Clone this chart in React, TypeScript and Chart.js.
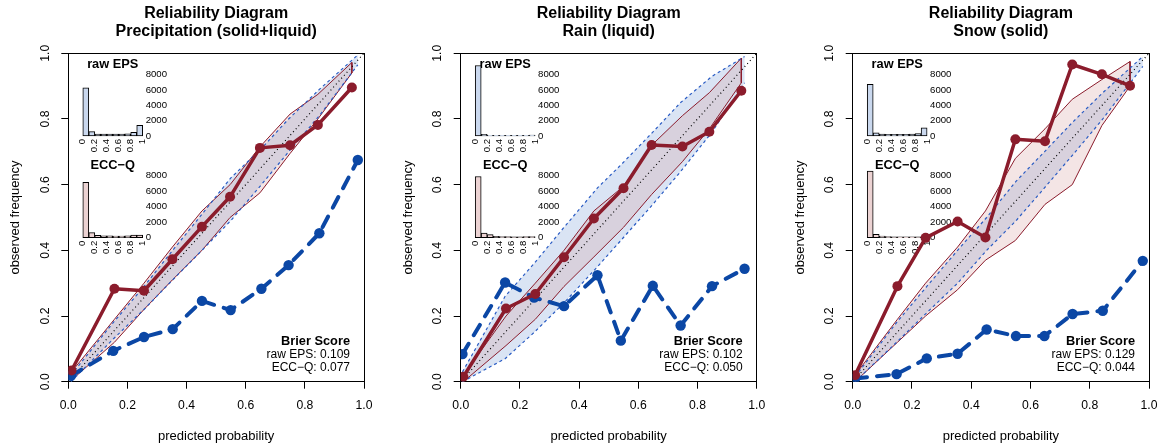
import React, { useEffect, useRef } from "react";
import { Chart, registerables } from "chart.js";

Chart.register(...registerables);

const FONT = "'Liberation Sans', Arial, Helvetica, sans-serif";

// ---------------- data ----------------
const TITLE_LINE1 = "Reliability Diagram";
const SUBTITLES = ["Precipitation (solid+liquid)", "Rain (liquid)", "Snow (solid)"];
const BRIER_RAW = [0.109, 0.102, 0.129];
const BRIER_ECC = [0.077, 0.05, 0.044];
const TICKS_MAIN = [0, 0.2, 0.4, 0.6, 0.8, 1.0];
const HIST_BINS = [0.05, 0.15, 0.25, 0.35, 0.45, 0.55, 0.65, 0.75, 0.85, 0.95];
const DIAG_X = [0, 1];

// Panel 1: Precipitation (solid+liquid)
const P1_RAW_X = [0.009, 0.152, 0.256, 0.353, 0.452, 0.549, 0.653, 0.745, 0.849, 0.979];
const P1_RAW_Y = [0.018, 0.094, 0.136, 0.16, 0.246, 0.218, 0.283, 0.355, 0.452, 0.675];
const P1_ECC_X = [0.011, 0.156, 0.256, 0.352, 0.452, 0.547, 0.648, 0.75, 0.844, 0.959];
const P1_ECC_Y = [0.034, 0.283, 0.277, 0.373, 0.472, 0.563, 0.712, 0.72, 0.782, 0.896];
const P1_RAW_UP = [0.02, 0.18, 0.29, 0.4, 0.51, 0.62, 0.71, 0.8, 0.89, 0.995];
const P1_RAW_LO = [0.0, 0.13, 0.22, 0.31, 0.4, 0.49, 0.6, 0.7, 0.81, 0.965];
const P1_ECC_UP = [0.03, 0.19, 0.3, 0.41, 0.52, 0.6, 0.715, 0.815, 0.875, 0.972];
const P1_ECC_LO = [0.005, 0.12, 0.22, 0.31, 0.4, 0.5, 0.575, 0.695, 0.8, 0.94];
const P1_HIST_RAW = [6300, 570, 260, 250, 250, 250, 260, 280, 480, 1400];
const P1_HIST_ECC = [7150, 650, 320, 250, 230, 220, 220, 230, 330, 350];

// Panel 2: Rain (liquid)
const P2_RAW_X = [0.006, 0.15, 0.248, 0.349, 0.462, 0.541, 0.649, 0.743, 0.849, 0.959];
const P2_RAW_Y = [0.084, 0.302, 0.256, 0.23, 0.324, 0.125, 0.292, 0.171, 0.291, 0.344];
const P2_ECC_X = [0.009, 0.153, 0.252, 0.349, 0.45, 0.55, 0.645, 0.749, 0.84, 0.948];
const P2_ECC_Y = [0.015, 0.223, 0.267, 0.379, 0.497, 0.589, 0.721, 0.716, 0.761, 0.886];
const P2_RAW_UP = [0.03, 0.26, 0.36, 0.47, 0.59, 0.66, 0.76, 0.85, 0.93, 0.99];
const P2_RAW_LO = [0.0, 0.07, 0.15, 0.24, 0.35, 0.43, 0.54, 0.64, 0.76, 0.91];
const P2_ECC_UP = [0.02, 0.2, 0.3, 0.4, 0.52, 0.595, 0.72, 0.81, 0.88, 0.985];
const P2_ECC_LO = [0.0, 0.11, 0.19, 0.29, 0.38, 0.47, 0.57, 0.67, 0.77, 0.91];
const P2_HIST_RAW = [9200, 220, 100, 90, 80, 80, 80, 80, 90, 110];
const P2_HIST_ECC = [7900, 600, 390, 170, 150, 130, 120, 120, 130, 150];

// Panel 3: Snow (solid)
const P3_RAW_X = [0.008, 0.148, 0.25, 0.354, 0.452, 0.551, 0.647, 0.742, 0.844, 0.979];
const P3_RAW_Y = [0.01, 0.023, 0.071, 0.085, 0.159, 0.139, 0.139, 0.206, 0.216, 0.368];
const P3_ECC_X = [0.008, 0.151, 0.246, 0.354, 0.448, 0.549, 0.649, 0.741, 0.841, 0.936];
const P3_ECC_Y = [0.02, 0.291, 0.438, 0.488, 0.439, 0.738, 0.732, 0.966, 0.936, 0.901];
const P3_RAW_UP = [0.015, 0.18, 0.29, 0.4, 0.5, 0.61, 0.7, 0.79, 0.88, 0.99];
const P3_RAW_LO = [0.0, 0.12, 0.21, 0.3, 0.4, 0.49, 0.59, 0.69, 0.8, 0.96];
const P3_ECC_UP = [0.02, 0.19, 0.3, 0.41, 0.52, 0.68, 0.77, 0.86, 0.92, 0.975];
const P3_ECC_LO = [0.0, 0.12, 0.2, 0.28, 0.37, 0.43, 0.54, 0.6, 0.78, 0.9];
const P3_HIST_RAW = [6750, 430, 250, 230, 220, 220, 230, 250, 300, 1050];
const P3_HIST_ECC = [8600, 450, 200, 130, 110, 100, 100, 100, 120, 150];

const PANELS = [
  { sub: SUBTITLES[0], rawX: P1_RAW_X, rawY: P1_RAW_Y, eccX: P1_ECC_X, eccY: P1_ECC_Y, rawUp: P1_RAW_UP, rawLo: P1_RAW_LO, eccUp: P1_ECC_UP, eccLo: P1_ECC_LO, histRaw: P1_HIST_RAW, histEcc: P1_HIST_ECC },
  { sub: SUBTITLES[1], rawX: P2_RAW_X, rawY: P2_RAW_Y, eccX: P2_ECC_X, eccY: P2_ECC_Y, rawUp: P2_RAW_UP, rawLo: P2_RAW_LO, eccUp: P2_ECC_UP, eccLo: P2_ECC_LO, histRaw: P2_HIST_RAW, histEcc: P2_HIST_ECC },
  { sub: SUBTITLES[2], rawX: P3_RAW_X, rawY: P3_RAW_Y, eccX: P3_ECC_X, eccY: P3_ECC_Y, rawUp: P3_RAW_UP, rawLo: P3_RAW_LO, eccUp: P3_ECC_UP, eccLo: P3_ECC_LO, histRaw: P3_HIST_RAW, histEcc: P3_HIST_ECC },
];

// ---------------- layout / style ----------------
const PAGE_W = 1163;
const PAGE_H = 447;
const BOX_LEFT = [68.3, 460.7, 852.7];
const BOX_RIGHT = [364, 756.7, 1149];
const BOX_BOTTOM = 381.7;
const MAIN_W = 388;

const RED = "#8b1c2c";
const BLUE = "#0b47a5";
const BLUE_THIN = "#2a5cc4";
const BLUE_FILL = "rgba(214, 225, 243, 0.9)";
const RED_FILL = "rgba(210, 150, 150, 0.25)";
const HIST_RAW_FILL = "#cad8ee";
const HIST_ECC_FILL = "#ecd3d3";

const pts = (xs: number[], ys: number[]) => xs.map((x, i) => ({ x, y: ys[i] }));
const polygon = (xs: number[], up: number[], lo: number[]) => {
  const p = xs.map((x, i) => ({ x, y: up[i] }));
  for (let i = xs.length - 1; i >= 0; i--) p.push({ x: xs[i], y: lo[i] });
  p.push(p[0]);
  return p;
};
const align1 = (v: number) => Math.round(v - 0.5) + 0.5;

function MainPanel({ idx }: { idx: number }) {
  const ref = useRef<HTMLCanvasElement | null>(null);
  const canvasLeft = Math.floor(BOX_LEFT[idx] - 68.3);
  useEffect(() => {
    const P = PANELS[idx];
    const yAxisW = BOX_LEFT[idx] - canvasLeft;
    const padRight = MAIN_W - (BOX_RIGHT[idx] - canvasLeft);
    const yTitlePad = BOX_LEFT[idx] - 52.5 - canvasLeft - 7.8;

    const boxPlugin = {
      id: "boxPlugin",
      beforeDatasetsDraw(chart: any) {
        const { ctx, chartArea: a } = chart;
        ctx.save();
        ctx.strokeStyle = "#000";
        ctx.lineWidth = 1;
        const l = align1(a.left), r = align1(a.right), t = align1(a.top), b = align1(a.bottom);
        ctx.strokeRect(l, t, r - l, b - t);
        ctx.restore();
      },
    };
    const brierPlugin = {
      id: "brierPlugin",
      afterDatasetsDraw(chart: any) {
        const { ctx, chartArea: a } = chart;
        ctx.save();
        ctx.fillStyle = "#000";
        ctx.textAlign = "right";
        ctx.textBaseline = "middle";
        const x = a.right - 14;
        ctx.font = `bold 12.8px ${FONT}`;
        ctx.fillText("Brier Score", x, a.bottom - 40);
        ctx.font = `12px ${FONT}`;
        ctx.fillText(`raw EPS: ${BRIER_RAW[idx].toFixed(3)}`, x, a.bottom - 27.4);
        ctx.fillText(`ECC\u2212Q: ${BRIER_ECC[idx].toFixed(3)}`, x, a.bottom - 14.2);
        ctx.restore();
      },
    };

    const tickFont = { family: FONT, size: 12.2 };
    const chart = new Chart(ref.current as HTMLCanvasElement, {
      type: "line",
      data: {
        datasets: [
          { data: polygon(P.rawX, P.rawUp, P.rawLo), fill: "shape", backgroundColor: BLUE_FILL, borderColor: "rgba(0,0,0,0)", borderWidth: 0, pointRadius: 0, order: 7 } as any,
          { data: polygon(P.eccX, P.eccUp, P.eccLo), fill: "shape", backgroundColor: RED_FILL, borderColor: RED, borderWidth: 1, pointRadius: 0, order: 6 },
          { data: pts(P.rawX, P.rawUp), borderColor: BLUE_THIN, borderWidth: 1.2, borderDash: [3, 3], pointRadius: 0, fill: false, order: 5 },
          { data: pts(P.rawX, P.rawLo), borderColor: BLUE_THIN, borderWidth: 1.2, borderDash: [3, 3], pointRadius: 0, fill: false, order: 4 },
          { data: pts(DIAG_X, DIAG_X), borderColor: "#000", borderWidth: 1.2, borderDash: [1, 3], pointRadius: 0, fill: false, order: 3 },
          { data: pts(P.rawX, P.rawY), borderColor: BLUE, borderWidth: 4, borderDash: [12, 10], borderCapStyle: "round", borderJoinStyle: "round", pointRadius: 5.2, pointBackgroundColor: BLUE, pointBorderWidth: 0, fill: false, order: 2 },
          { data: pts(P.eccX, P.eccY), borderColor: RED, borderWidth: 3.5, borderCapStyle: "round", borderJoinStyle: "round", pointRadius: 5, pointBackgroundColor: RED, pointBorderWidth: 0, fill: false, order: 1 },
        ],
      },
      options: {
        animation: false,
        responsive: false,
        devicePixelRatio: 1,
        events: [],
        layout: { padding: { left: 0, top: 0, right: padRight, bottom: 0 } },
        plugins: {
          legend: { display: false },
          tooltip: { enabled: false },
          title: {
            display: true,
            text: [TITLE_LINE1, P.sub],
            color: "#000",
            font: { family: FONT, size: 16, weight: "bold", lineHeight: 1.1 },
            padding: { top: 5.2, bottom: 12.9 },
            fullSize: false,
          },
        },
        scales: {
          x: {
            type: "linear",
            min: 0,
            max: 1,
            afterFit: (s: any) => { s.height = PAGE_H - BOX_BOTTOM; },
            afterBuildTicks: (s: any) => { s.ticks = TICKS_MAIN.map((v) => ({ value: v })); },
            ticks: { callback: (v: any) => Number(v).toFixed(1), font: tickFont, color: "#000", padding: 10, autoSkip: false, maxRotation: 0 },
            grid: { drawOnChartArea: false, drawTicks: true, tickLength: 7, color: "#000", lineWidth: 1 },
            border: { display: true, color: "#000", width: 1 },
            title: { display: true, text: "predicted probability", color: "#000", font: { family: FONT, size: 13 }, padding: { top: 0, bottom: 2.5 } },
          },
          y: {
            type: "linear",
            min: 0,
            max: 1,
            afterFit: (s: any) => { s.width = yAxisW; },
            afterBuildTicks: (s: any) => { s.ticks = TICKS_MAIN.map((v) => ({ value: v })); },
            ticks: { callback: (v: any) => Number(v).toFixed(1), font: tickFont, color: "#000", padding: 7.2, minRotation: 90, maxRotation: 90, crossAlign: "center", autoSkip: false },
            grid: { drawOnChartArea: false, drawTicks: true, tickLength: 7, color: "#000", lineWidth: 1 },
            border: { display: true, color: "#000", width: 1 },
            title: { display: true, text: "observed frequency", color: "#000", font: { family: FONT, size: 13 }, padding: { top: yTitlePad, bottom: 0 } },
          },
        },
      } as any,
      plugins: [boxPlugin, brierPlugin],
    });
    return () => chart.destroy();
  }, [idx]);
  return (
    <canvas
      ref={ref}
      width={MAIN_W}
      height={PAGE_H}
      style={{ position: "absolute", left: canvasLeft, top: 0, width: MAIN_W, height: PAGE_H, zIndex: 2 }}
    />
  );
}

function Inset({ idx, kind }: { idx: number; kind: "raw" | "ecc" }) {
  const ref = useRef<HTMLCanvasElement | null>(null);
  const areaLeft = BOX_LEFT[idx] + 14.5;
  const areaRight = BOX_LEFT[idx] + 74.4;
  const areaTop = kind === "raw" ? 74.7 : 175.7;
  const areaBottom = kind === "raw" ? 136 : 237.7;
  const titleY = kind === "raw" ? 64.5 : 165.3;
  const cl = Math.floor(areaLeft - 10);
  const ct = Math.floor(titleY - 20);
  const W = 115;
  const H = 125;
  useEffect(() => {
    const P = PANELS[idx];
    const values = kind === "raw" ? P.histRaw : P.histEcc;
    const padLeft = areaLeft - cl;
    const rightW = W - padLeft - (areaRight - areaLeft);
    const tLH = 12.8 * 1.2;
    const padTop = titleY - ct - tLH / 2;
    const padBottom = areaTop - ct - padTop - tLH;
    const xAxisH = ct + H - areaBottom;
    const f = { family: FONT, size: 9.6 };
    const chart = new Chart(ref.current as HTMLCanvasElement, {
      type: "bar",
      data: {
        datasets: [
          {
            data: HIST_BINS.map((x, i) => ({ x, y: values[i] })),
            backgroundColor: kind === "raw" ? HIST_RAW_FILL : HIST_ECC_FILL,
            borderColor: "#000",
            borderWidth: 1,
            borderSkipped: false,
            barPercentage: 1,
            categoryPercentage: 1,
            clip: false,
          } as any,
        ],
      },
      options: {
        animation: false,
        responsive: false,
        devicePixelRatio: 1,
        events: [],
        layout: { padding: { left: padLeft, top: 0, right: 0, bottom: 0 } },
        plugins: {
          legend: { display: false },
          tooltip: { enabled: false },
          title: {
            display: true,
            text: kind === "raw" ? "raw EPS" : "ECC\u2212Q",
            color: "#000",
            font: { family: FONT, size: 12.8, weight: "bold", lineHeight: 1.2 },
            padding: { top: padTop, bottom: padBottom },
            fullSize: false,
          },
        },
        scales: {
          x: {
            type: "linear",
            min: 0,
            max: 1,
            offset: false,
            afterFit: (s: any) => { s.height = xAxisH; },
            ticks: { stepSize: 0.2, autoSkip: false, minRotation: 90, maxRotation: 90, padding: 3, font: f, color: "#000", callback: (v: any) => String(Math.round(Number(v) * 10) / 10) },
            grid: { display: false, drawTicks: false, offset: false },
            border: { display: false },
          },
          y: {
            type: "linear",
            position: "right",
            min: 0,
            max: 8000,
            afterFit: (s: any) => { s.width = rightW; },
            ticks: { stepSize: 2000, padding: 3, font: f, color: "#000", callback: (v: any) => String(v) },
            grid: { display: false, drawTicks: false },
            border: { display: false },
          },
        },
      } as any,
    });
    return () => chart.destroy();
  }, [idx, kind]);
  return (
    <canvas
      ref={ref}
      width={W}
      height={H}
      style={{ position: "absolute", left: cl, top: ct, width: W, height: H, zIndex: 1 }}
    />
  );
}

export default function App() {
  return (
    <div
      style={{
        position: "fixed",
        left: 0,
        top: 0,
        width: PAGE_W,
        height: PAGE_H,
        overflow: "hidden",
        background: "#ffffff",
      }}
    >
      {[0, 1, 2].map((i) => (
        <React.Fragment key={"in" + i}>
          <Inset idx={i} kind="raw" />
          <Inset idx={i} kind="ecc" />
        </React.Fragment>
      ))}
      {[0, 1, 2].map((i) => (
        <MainPanel key={"m" + i} idx={i} />
      ))}
    </div>
  );
}
